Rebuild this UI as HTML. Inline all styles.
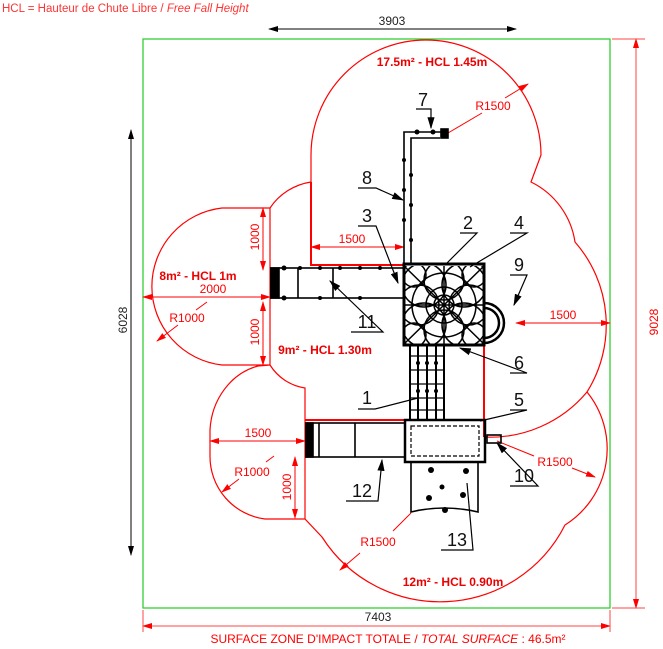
<!DOCTYPE html>
<html><head><meta charset="utf-8"><style>
html,body{margin:0;padding:0;background:#fff;}
svg{display:block;font-family:"Liberation Sans",sans-serif;}
.r{fill:none;stroke:#f00;stroke-width:1.2}
.rt{fill:#f00;font-size:12px}
.rb{fill:#e00;font-size:12px;font-weight:bold}
.k{fill:none;stroke:#000;stroke-width:1.6}
.n{font-size:18px;fill:#111}
</style></head><body>
<svg width="663" height="649" viewBox="0 0 663 649" xmlns="http://www.w3.org/2000/svg">
<defs>
<marker id="ak" markerWidth="10" markerHeight="6" refX="9" refY="3" orient="auto-start-reverse"><path d="M0,0 L10,3 L0,6z" fill="#000"/></marker>
<marker id="ar" markerWidth="10" markerHeight="6" refX="9" refY="3" orient="auto-start-reverse"><path d="M0,0 L10,3 L0,6z" fill="#f00"/></marker>
<clipPath id="tw"><rect x="404" y="266" width="80" height="78"/></clipPath>
</defs>
<text x="2" y="12" fill="#f33" font-size="11.5">HCL = Hauteur de Chute Libre / <tspan font-style="italic">Free Fall Height</tspan></text>
<rect x="143" y="39" width="467" height="569" fill="none" stroke="#2c2" stroke-width="1.2"/>
<line x1="269" y1="29" x2="516" y2="29" stroke="#000" marker-start="url(#ak)" marker-end="url(#ak)"/>
<text x="392" y="25" font-size="12" text-anchor="middle" fill="#222">3903</text>
<line x1="131" y1="130" x2="131" y2="555" stroke="#000" marker-start="url(#ak)" marker-end="url(#ak)"/>
<text transform="translate(127,320) rotate(-90)" font-size="12" text-anchor="middle" fill="#222">6028</text>
<line x1="636" y1="39" x2="636" y2="608" stroke="#f44" marker-start="url(#ar)" marker-end="url(#ar)"/>
<line x1="612" y1="39" x2="645" y2="39" stroke="#f44"/><line x1="612" y1="608" x2="645" y2="608" stroke="#f44"/>
<text transform="translate(658,322) rotate(-90)" class="rt" text-anchor="middle">9028</text>
<line x1="143" y1="626" x2="610" y2="626" stroke="#f44" marker-start="url(#ar)" marker-end="url(#ar)"/>
<line x1="143" y1="610" x2="143" y2="632" stroke="#f44"/><line x1="610" y1="610" x2="610" y2="632" stroke="#f44"/>
<text x="378" y="621" font-size="12" text-anchor="middle" fill="#222">7403</text>
<text x="388" y="643" class="rt" text-anchor="middle">SURFACE ZONE D'IMPACT TOTALE / <tspan font-style="italic">TOTAL SURFACE</tspan> : 46.5m²</text>
<path class="r" d="M311,182 L311,155 A115,115 0 0 1 541,155 L531,182 A80,80 0 0 1 575,242 A126,126 0 0 1 587,392 A90,90 0 0 1 565,525 A140,140 0 0 1 322,537 L305,519 L265,519 A63,63 0 0 1 210,456 L210,430 A63,70 0 0 1 258,366 L270,365 L222,365 A79,79 0 0 1 222,208 L270,208 A60,60 0 0 1 311,182 Z"/>
<path class="r" d="M270,208 L270,365 A50,50 0 0 0 305,388 L305,519"/>
<path class="r" d="M587,392 A126,126 0 0 1 484,437"/>
<path fill="none" stroke="#f00" stroke-width="2" d="M311,182 L311,265 L404,265 M484,265 L484,437 M305,420 L484,420"/>
<text x="432" y="66" class="rb" text-anchor="middle">17.5m² - HCL 1.45m</text>
<text x="198" y="280" class="rb" text-anchor="middle">8m² - HCL 1m</text>
<text x="325" y="354" class="rb" text-anchor="middle">9m² - HCL 1.30m</text>
<text x="453" y="586" class="rb" text-anchor="middle">12m² - HCL 0.90m</text>
<line x1="311" y1="247" x2="404" y2="247" stroke="#f00" marker-start="url(#ar)" marker-end="url(#ar)"/>
<text x="352" y="243" class="rt" text-anchor="middle">1500</text>
<line x1="263" y1="208" x2="263" y2="270" stroke="#f00" marker-start="url(#ar)" marker-end="url(#ar)"/>
<text transform="translate(259,237) rotate(-90)" class="rt" text-anchor="middle">1000</text>
<line x1="263" y1="302" x2="263" y2="365" stroke="#f00" marker-start="url(#ar)" marker-end="url(#ar)"/>
<text transform="translate(259,332) rotate(-90)" class="rt" text-anchor="middle">1000</text>
<line x1="143" y1="297" x2="270" y2="297" stroke="#f00" marker-start="url(#ar)" marker-end="url(#ar)"/>
<text x="213" y="293" class="rt" text-anchor="middle">2000</text>
<text x="187" y="322" class="rt" text-anchor="middle">R1000</text>
<line x1="207" y1="302" x2="196" y2="310" stroke="#f00"/>
<line x1="178" y1="325" x2="157" y2="341" stroke="#f00" marker-end="url(#ar)"/>
<line x1="516" y1="323" x2="610" y2="323" stroke="#f00" marker-start="url(#ar)" marker-end="url(#ar)"/>
<text x="563" y="319" class="rt" text-anchor="middle">1500</text>
<line x1="210" y1="441" x2="305" y2="441" stroke="#f00" marker-start="url(#ar)" marker-end="url(#ar)"/>
<text x="258" y="437" class="rt" text-anchor="middle">1500</text>
<text x="252" y="476" class="rt" text-anchor="middle">R1000</text>
<line x1="274" y1="456" x2="266" y2="462" stroke="#f00"/>
<line x1="239" y1="479" x2="222" y2="492" stroke="#f00" marker-end="url(#ar)"/>
<line x1="295" y1="457" x2="295" y2="518" stroke="#f00" marker-start="url(#ar)" marker-end="url(#ar)"/>
<text transform="translate(291,487) rotate(-90)" class="rt" text-anchor="middle">1000</text>
<line x1="448" y1="133" x2="482" y2="113" stroke="#f00"/>
<line x1="505" y1="98" x2="528" y2="84" stroke="#f00" marker-end="url(#ar)"/>
<text x="493" y="110" class="rt" text-anchor="middle">R1500</text>
<line x1="497" y1="441" x2="534" y2="456" stroke="#f00"/>
<line x1="572" y1="468" x2="595" y2="477" stroke="#f00" marker-end="url(#ar)"/>
<text x="555" y="466" class="rt" text-anchor="middle">R1500</text>
<line x1="411" y1="513" x2="393" y2="531" stroke="#f00"/>
<line x1="360" y1="553" x2="340" y2="570" stroke="#f00" marker-end="url(#ar)"/>
<text x="378" y="546" class="rt" text-anchor="middle">R1500</text>
<g class="k">
<path d="M404,265 V132 H445 M411,265 V138 H440"/>
<rect x="441" y="129" width="7" height="9" fill="#000"/>
<rect x="404" y="264" width="80" height="81" stroke-width="3"/>
<g clip-path="url(#tw)" stroke-width="1.5">
<circle cx="444" cy="305" r="10"/><circle cx="444" cy="305" r="18"/><circle cx="444" cy="305" r="32"/>
<circle cx="424" cy="285" r="22"/><circle cx="464" cy="285" r="22"/><circle cx="424" cy="325" r="22"/><circle cx="464" cy="325" r="22"/>
<circle cx="444" cy="280" r="20"/><circle cx="444" cy="330" r="20"/><circle cx="419" cy="305" r="20"/><circle cx="469" cy="305" r="20"/>
<circle cx="414" cy="275" r="12"/><circle cx="474" cy="275" r="12"/><circle cx="414" cy="335" r="12"/><circle cx="474" cy="335" r="12"/>
<path d="M404,266 L484,344 M484,266 L404,344 M444,266 V344 M404,305 H484"/>
</g>
<rect x="271" y="268" width="133" height="30"/>
<rect x="271" y="268" width="8" height="30" fill="#000"/>
<path d="M298,268 V298 M333,268 V298"/>
<path d="M484,303 A20,20 0 0 1 484,343 M484,308 A15,15 0 0 1 484,338" stroke-width="2.5"/>
<path d="M410,345 V420 M418,345 V420 M427,345 V420 M436,345 V420 M444,345 V420" stroke-width="2"/>
<path d="M410,356 H444 M410,370 H444 M410,384 H444 M410,398 H444 M410,410 H444" stroke-width="1.2"/>
<rect x="405" y="420" width="80" height="42" stroke-width="2.5"/>
<rect x="411" y="426" width="68" height="30" stroke-dasharray="4,2" stroke-width="1.2"/>
<rect x="306" y="423" width="99" height="34"/>
<rect x="306" y="423" width="7" height="34" fill="#000"/>
<path d="M319,423 V457 M355,423 V457"/>
<path d="M411,462 V512 Q444,504 478,512 V462"/>
<rect x="487" y="435" width="14" height="8"/>
</g>
<g fill="#000">
<circle cx="431" cy="470" r="3"/><circle cx="466" cy="471" r="3"/><circle cx="442" cy="487" r="2.5"/><circle cx="429" cy="498" r="3"/><circle cx="463" cy="495" r="3"/><circle cx="445" cy="510" r="3"/>
<circle cx="284" cy="268" r="2.5"/><circle cx="300" cy="268" r="2"/><circle cx="320" cy="268" r="2"/><circle cx="340" cy="268" r="2"/><circle cx="360" cy="268" r="2"/><circle cx="380" cy="268" r="2"/>
<circle cx="284" cy="298" r="2.5"/><circle cx="320" cy="298" r="2"/><circle cx="360" cy="298" r="2"/>
<circle cx="404" cy="160" r="2"/><circle cx="404" cy="190" r="2"/><circle cx="404" cy="220" r="2"/><circle cx="411" cy="175" r="2"/><circle cx="411" cy="205" r="2"/><circle cx="411" cy="240" r="2"/>
<circle cx="417" cy="132" r="2.5"/><circle cx="433" cy="132" r="2.5"/>
<circle cx="418" cy="363" r="2"/><circle cx="427" cy="363" r="2"/><circle cx="436" cy="363" r="2"/><circle cx="418" cy="391" r="2"/><circle cx="427" cy="391" r="2"/><circle cx="436" cy="391" r="2"/>
</g>
<g class="n" text-anchor="middle">
<text x="423" y="106">7</text><text x="367" y="184">8</text><text x="367" y="222">3</text>
<text x="468" y="229">2</text><text x="519" y="229">4</text><text x="519" y="271">9</text>
<text x="367" y="328">11</text><text x="519" y="369">6</text><text x="367" y="404">1</text>
<text x="519" y="406">5</text><text x="524" y="482">10</text><text x="362" y="497">12</text><text x="457" y="546">13</text>
</g>
<g stroke="#000" stroke-width="1.2" fill="none">
<path d="M416,109 H431 L431,128" marker-end="url(#ak)"/>
<path d="M358,188 H376 L403,200" marker-end="url(#ak)"/>
<path d="M358,226 H376 L398,283" marker-end="url(#ak)"/>
<path d="M460,233 H477 L445,265"/>
<path d="M510,233 H527 L470,267"/>
<path d="M510,275 H527 L514,305" marker-end="url(#ak)"/>
<path d="M351,332 H383 L330,281" marker-end="url(#ak)"/>
<path d="M510,373 H527 L460,348" marker-end="url(#ak)"/>
<path d="M358,409 H375 L418,398"/>
<path d="M510,410 H527 L480,421"/>
<path d="M510,486 H538 L497,443" marker-end="url(#ak)"/>
<path d="M346,501 H378 L382,460" marker-end="url(#ak)"/>
<path d="M441,550 H473 L467,483"/>
</g>
</svg>
</body></html>
